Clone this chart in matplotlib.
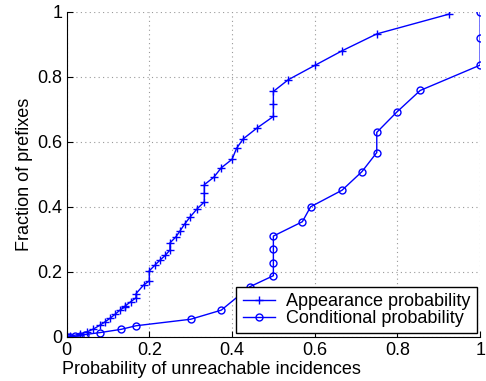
import numpy as np
import matplotlib.pyplot as plt

plt.rcParams.update({'font.size': 13,
                     'font.family': 'sans-serif',
                     'font.sans-serif': ['Liberation Sans', 'DejaVu Sans']})
plt.rc('axes', unicode_minus=False)

# appearance probability CDF
app_x = [0.0, 0.008, 0.032, 0.049, 0.065, 0.081, 0.093, 0.105, 0.117, 0.129,
         0.141, 0.141, 0.155, 0.168, 0.168, 0.186, 0.2, 0.2, 0.214, 0.226,
         0.239, 0.25, 0.25, 0.264, 0.275, 0.286, 0.299, 0.315, 0.333, 0.333,
         0.333, 0.356, 0.374, 0.4, 0.411, 0.427, 0.461, 0.5, 0.5, 0.5,
         0.536, 0.6, 0.666, 0.75, 0.925]
app_y = [0.0, 0.002, 0.008, 0.015, 0.024, 0.036, 0.046, 0.057, 0.069, 0.082,
         0.092, 0.094, 0.108, 0.12, 0.133, 0.159, 0.172, 0.203, 0.221, 0.236,
         0.251, 0.267, 0.289, 0.307, 0.327, 0.348, 0.369, 0.393, 0.415, 0.443,
         0.468, 0.491, 0.52, 0.546, 0.58, 0.609, 0.643, 0.678, 0.717, 0.755,
         0.791, 0.835, 0.88, 0.932, 0.993]

# conditional probability CDF
cond_x = [0.0, 0.008, 0.02, 0.032, 0.045, 0.081, 0.132, 0.168, 0.3, 0.374,
          0.443, 0.5, 0.5, 0.5, 0.5, 0.57, 0.59, 0.666, 0.714, 0.75,
          0.75, 0.798, 0.855, 1.0, 1.0, 1.0]
cond_y = [0.0, 0.0, 0.001, 0.004, 0.007, 0.013, 0.023, 0.034, 0.054, 0.082,
          0.154, 0.188, 0.228, 0.269, 0.31, 0.354, 0.4, 0.451, 0.508, 0.567,
          0.629, 0.691, 0.758, 0.836, 0.918, 1.0]

fig = plt.figure(figsize=(4.86, 3.81), dpi=100)
ax = fig.add_axes([0.137, 0.116, 0.851, 0.853])

ax.plot(app_x, app_y, '-+', color='b', lw=1, ms=6, mew=1,
        label='Appearance probability')
ax.plot(cond_x, cond_y, '-o', color='b', lw=1, ms=5, mew=1, mfc='none',
        label='Conditional probability')

ax.set_xlim(0, 1)
ax.set_ylim(0, 1)
ax.set_xticks(np.arange(0, 1.01, 0.2))
ax.set_yticks(np.arange(0, 1.01, 0.2))
ax.set_xticklabels(['0', '0.2', '0.4', '0.6', '0.8', '1'])
ax.set_yticklabels(['0', '0.2', '0.4', '0.6', '0.8', '1'])
ax.grid(True, linestyle=(0, (1, 3)), color='#999999', lw=0.8)
ax.spines['top'].set_visible(False)
ax.spines['right'].set_visible(False)
ax.tick_params(direction='in', length=4)
ax.tick_params(axis='x', pad=4)
ax.tick_params(axis='y', pad=3)

ax.set_ylabel('Fraction of prefixes', labelpad=3)
fig.text(0.127, 0.030, 'Probability of unreachable incidences', ha='left',
         va='center')

leg = ax.legend(loc='lower right', borderaxespad=0.2, fancybox=False,
                framealpha=1, edgecolor='k', handlelength=1.8,
                handletextpad=0.6, borderpad=0.35, labelspacing=0.0)
leg.get_frame().set_linewidth(1)

fig.savefig('out.png', dpi=100)
